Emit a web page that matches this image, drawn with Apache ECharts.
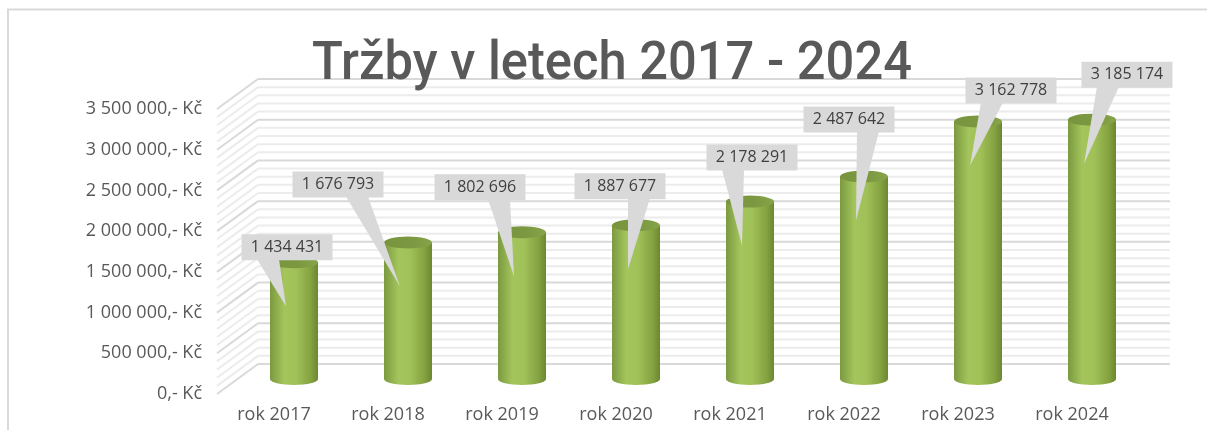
<!DOCTYPE html>
<html>
<head>
<meta charset="utf-8">
<script src="https://cdn.jsdelivr.net/npm/echarts@6/dist/echarts.min.js"></script>
<style>
html,body{margin:0;padding:0;background:#fff;}
#chart{width:1207px;height:430px;}
</style>
</head>
<body>
<div id="chart"></div>
<script>
// ---- data ----
const categories = ['rok 2017','rok 2018','rok 2019','rok 2020','rok 2021','rok 2022','rok 2023','rok 2024'];
const revenues = [1434431, 1676793, 1802696, 1887677, 2178291, 2487642, 3162778, 3185174];
const titleText = 'Tržby v letech 2017 - 2024';
const yMax = 3500000;
const yInterval = 500000;
const yMinorSplit = 5;

// ---- layout (positions / styles) ----
const FRONT = {left: 217, top: 109, width: 912, height: 285};
const MID   = {left: 237, top: 94,  width: 912, height: 285};
const BACK  = {left: 258, top: 79,  width: 912, height: 285};
const DEPTH_DX = -41, DEPTH_DY = 30;
const BAR_W = 48, ELL_H = 12;
const calloutOffsets = [[-7,-15],[-70,-58],[-42,-45],[-16,-39],[2,-44],[-15,-57],[33,-31],[35,-45]];
const TIP = [-8, 44];
const BOX_W = 91, BOX_H = 26;
const TITLE_FONT = '500 53px Roboto, "Liberation Sans", sans-serif';
const TITLE_W = 600, TITLE_CX = 612, TITLE_CY = 66;

function fmt(v){
  return String(Math.round(v)).replace(/\B(?=(\d{3})+(?!\d))/g, ' ');
}

// measure title to fit reference width
const mctx = document.createElement('canvas').getContext('2d');
mctx.font = TITLE_FONT;
const titleScale = TITLE_W / mctx.measureText(titleText).width;

const gridVals = [];
for (let k = 0; k <= (yMax / yInterval) * yMinorSplit; k++) {
  gridVals.push([0, k * yInterval / yMinorSplit]);
}

const cylGrad = new echarts.graphic.LinearGradient(0, 0, 1, 0, [
  {offset: 0, color: '#7b9940'},
  {offset: 0.3, color: '#a4c55c'},
  {offset: 0.55, color: '#a0c058'},
  {offset: 0.85, color: '#84a240'},
  {offset: 1, color: '#6a8830'}
]);

function gridOf(g){ return {left: g.left, top: g.top, width: g.width, height: g.height, containLabel: false}; }

const yBase = {type: 'value', min: 0, max: yMax, interval: yInterval};

const chart = echarts.init(document.getElementById('chart'), null, {renderer: 'canvas'});
chart.setOption({
  animation: false,
  backgroundColor: '#fff',
  graphic: [{
    type: 'rect', silent: true, z: -10,
    shape: {x: 8, y: 9.5, width: 1230, height: 450},
    style: {fill: 'none', stroke: '#d9d9d9', lineWidth: 2}
  }, {
    type: 'text', silent: true, z: 20,
    x: TITLE_CX, y: TITLE_CY, scaleX: Math.min(1.2, titleScale), originX: 0, originY: 0,
    style: {text: titleText, align: 'center', verticalAlign: 'middle',
      font: TITLE_FONT, fill: '#595959'}
  }],
  grid: [gridOf(FRONT), gridOf(MID), gridOf(BACK)],
  xAxis: [
    {gridIndex: 0, type: 'category', data: categories,
     axisLine: {show: false}, axisTick: {show: false}, splitLine: {show: false},
     axisLabel: {color: '#595959', fontSize: 18, fontFamily: '"Open Sans",sans-serif', margin: 12}},
    {gridIndex: 1, type: 'category', data: categories, show: false},
    {gridIndex: 2, type: 'category', data: categories, show: false}
  ],
  yAxis: [
    Object.assign({gridIndex: 0}, yBase, {
      axisLine: {show: false}, axisTick: {show: false}, splitLine: {show: false},
      axisLabel: {color: '#595959', fontSize: 18, fontFamily: '"Open Sans",sans-serif', margin: 15,
        formatter: v => fmt(v) + ',- Kč'}
    }),
    Object.assign({gridIndex: 1, show: false, splitLine: {show: false}}, yBase),
    Object.assign({gridIndex: 2, show: false, splitLine: {show: false}}, yBase)
  ],
  series: [
    // walls: back horizontal gridlines + slanted side lines
    {
      type: 'custom', xAxisIndex: 2, yAxisIndex: 2, z: 0, silent: true,
      data: gridVals,
      renderItem: function(params, api){
        const v = api.value(1);
        const y = api.coord([0, v])[1];
        const x0 = params.coordSys.x, x1 = params.coordSys.x + params.coordSys.width;
        const major = Math.abs(v / yInterval - Math.round(v / yInterval)) < 1e-9;
        const stroke = major ? '#d9d9d9' : '#ececec';
        return {type: 'group', children: [
          {type: 'line', shape: {x1: x0 + DEPTH_DX, y1: y + DEPTH_DY, x2: x0, y2: y}, style: {stroke: stroke, lineWidth: 2}},
          {type: 'line', shape: {x1: x0, y1: y, x2: x1, y2: y}, style: {stroke: stroke, lineWidth: 2}}
        ]};
      }
    },
    // bottom ellipse
    {
      type: 'pictorialBar', xAxisIndex: 1, yAxisIndex: 1, z: 1, silent: true,
      symbol: 'circle', symbolSize: [BAR_W, ELL_H], symbolPosition: 'start', symbolOffset: [0, '50%'],
      itemStyle: {color: cylGrad},
      data: revenues
    },
    // cylinder body
    {
      type: 'bar', xAxisIndex: 1, yAxisIndex: 1, z: 2, silent: true,
      barWidth: BAR_W,
      itemStyle: {color: cylGrad},
      data: revenues
    },
    // top ellipse
    {
      type: 'pictorialBar', xAxisIndex: 1, yAxisIndex: 1, z: 3, silent: true,
      symbol: 'circle', symbolSize: [BAR_W, ELL_H], symbolPosition: 'end', symbolOffset: [0, '-50%'],
      itemStyle: {color: new echarts.graphic.LinearGradient(0, 0, 1, 0, [
        {offset: 0, color: '#78943e'}, {offset: 0.6, color: '#7c9942'}, {offset: 1, color: '#86a448'}])},
      data: revenues
    },
    // callouts
    {
      type: 'custom', xAxisIndex: 1, yAxisIndex: 1, z: 10, silent: true,
      data: revenues.map((v, i) => [i, v]),
      renderItem: function(params, api){
        const i = params.dataIndex;
        const v = api.value(1);
        const p = api.coord([api.value(0), v]);
        const off = calloutOffsets[i];
        const cx = p[0] + off[0], cy = p[1] + off[1];
        const tx = p[0] + TIP[0], ty = p[1] + TIP[1];
        const by = cy + BOX_H / 2;
        const b1 = tx <= cx ? cx - 30 : cx + 8;
        const b2 = tx <= cx ? cx - 8 : cx + 30;
        return {type: 'group', children: [
          {type: 'polygon', shape: {points: [[b1, by - 1], [b2, by - 1], [tx, ty]]}, style: {fill: '#d9d9d9'}},
          {type: 'rect', shape: {x: cx - BOX_W / 2, y: cy - BOX_H / 2, width: BOX_W, height: BOX_H}, style: {fill: '#d9d9d9'}},
          {type: 'text', x: cx, y: cy, style: {text: fmt(v), align: 'center', verticalAlign: 'middle',
            fill: '#404040', fontSize: 16, fontFamily: '"Open Sans",sans-serif'}}
        ]};
      }
    }
  ]
});
</script>
</body>
</html>
